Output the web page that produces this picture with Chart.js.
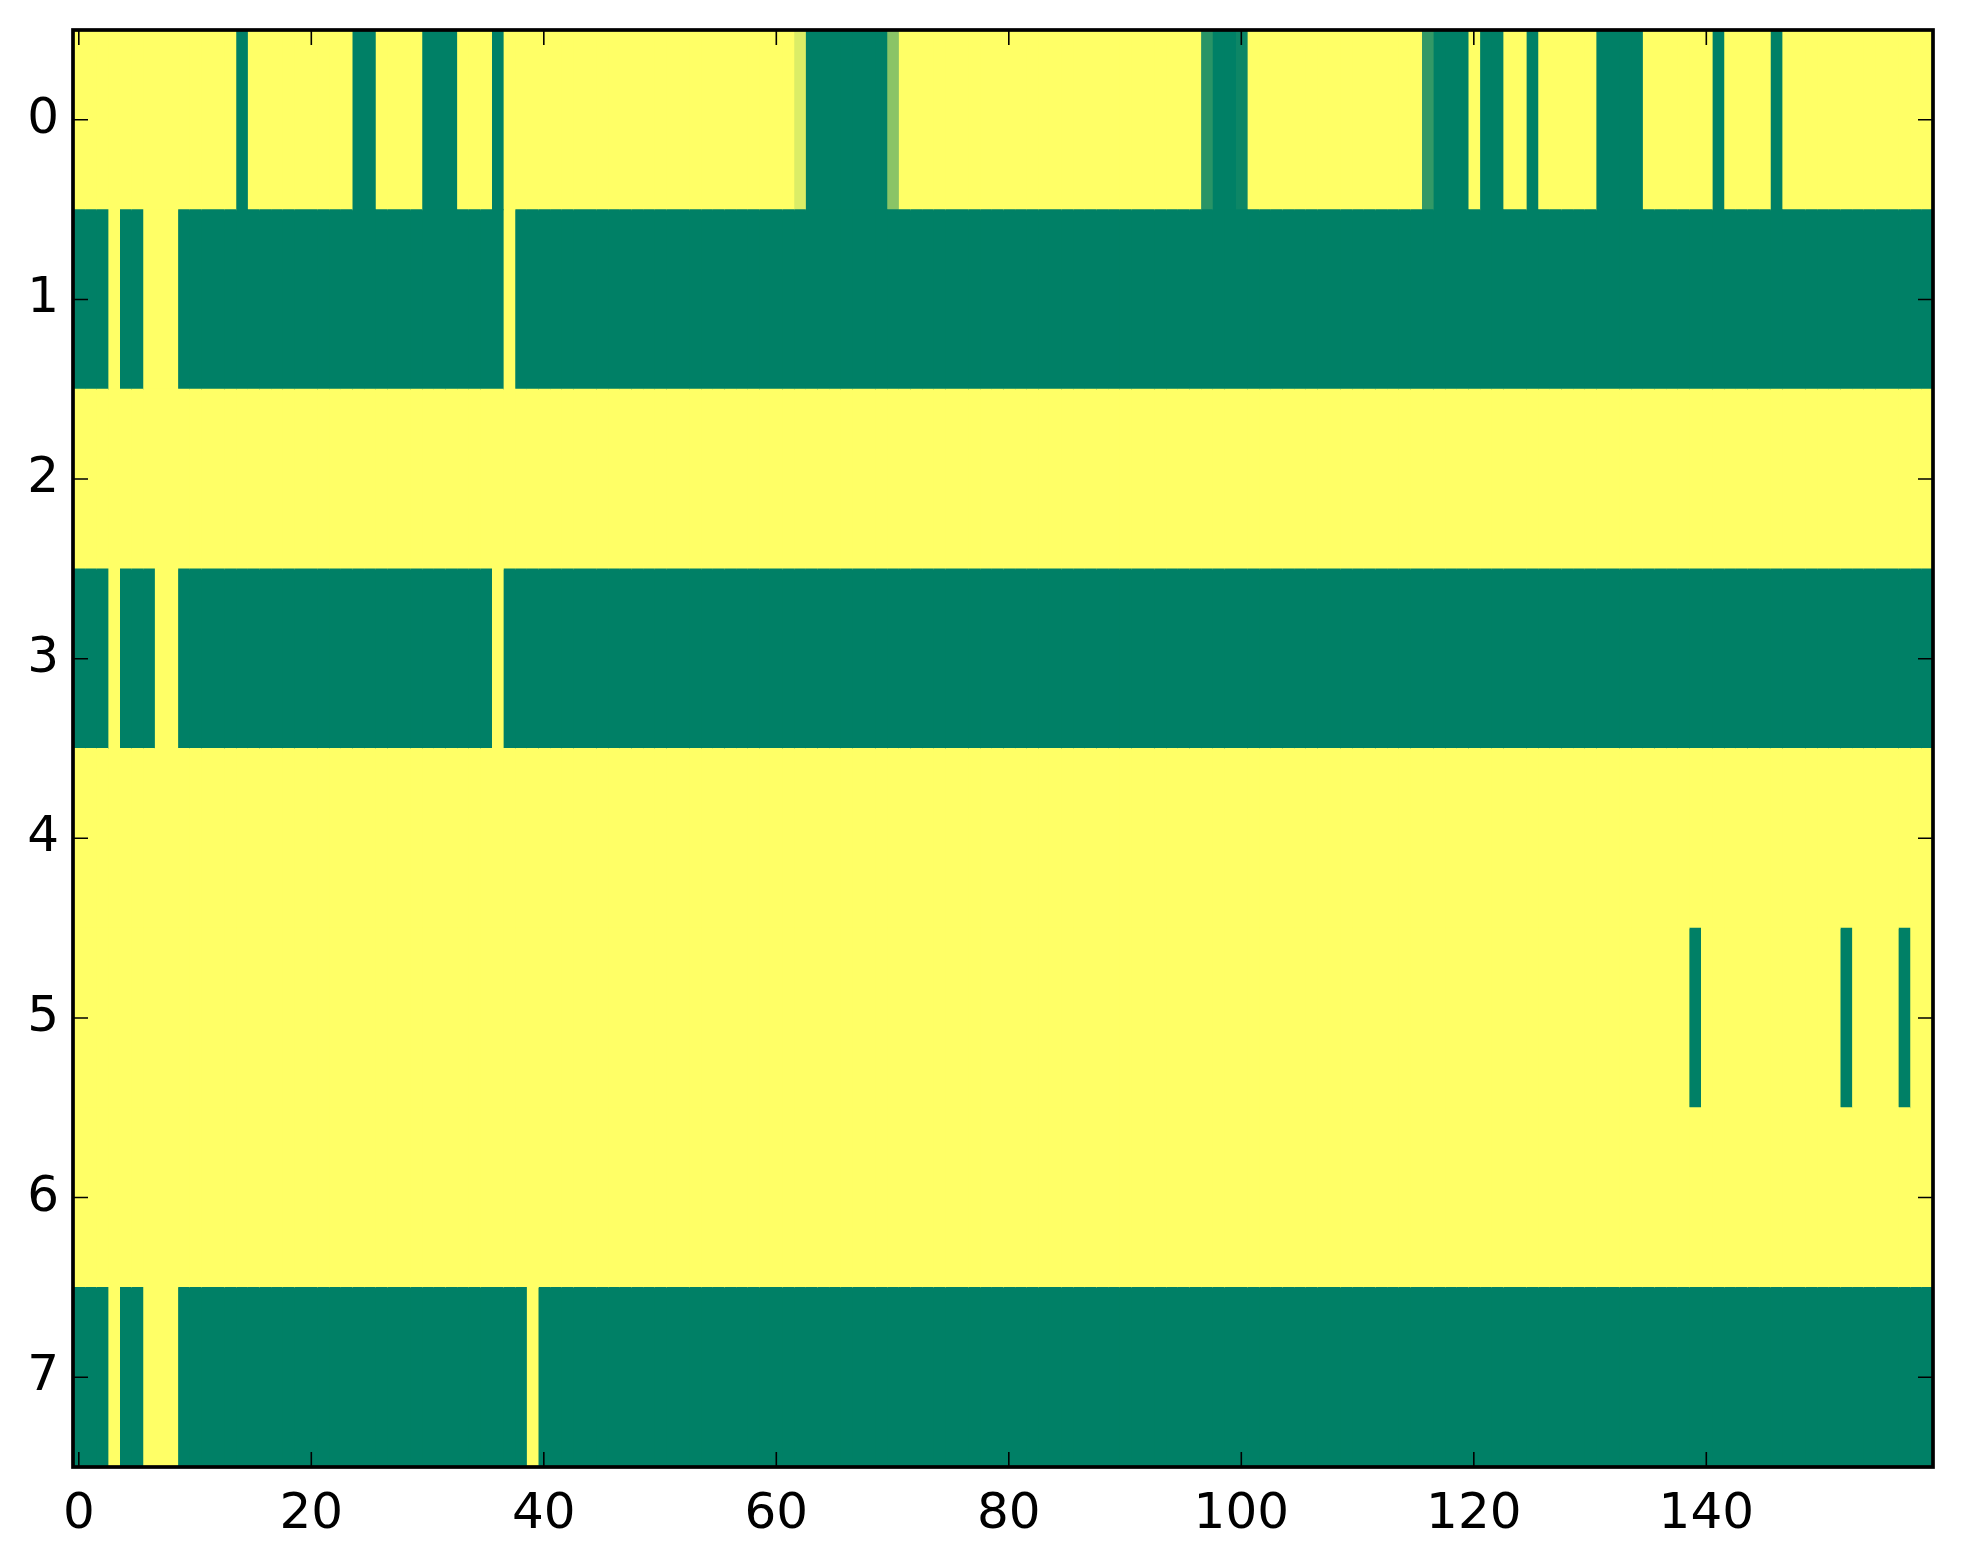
<!DOCTYPE html>
<html>
<head>
<meta charset="utf-8">
<script src="https://cdn.jsdelivr.net/npm/chart.js@4/dist/chart.umd.min.js"></script>
<style>
  html, body { margin: 0; padding: 0; background: #fff; }
  #wrap { width: 1963px; height: 1564px; position: relative; }
</style>
</head>
<body>
<div id="wrap"><canvas id="heatmap"></canvas></div>
<script>
// row labels (top to bottom) and x tick labels
const rowLabels = ['0', '1', '2', '3', '4', '5', '6', '7'];
const xTickValues = [0, 20, 40, 60, 80, 100, 120, 140];

// cell values per row, 160 columns each (0 = green, 1 = yellow)
const row0 = [
  1, 1, 1, 1, 1, 1, 1, 1, 1, 1, 1, 1, 1, 1, 0, 1, 1, 1, 1, 1,
  1, 1, 1, 1, 0, 0, 1, 1, 1, 1, 0, 0, 0, 1, 1, 1, 0, 1, 1, 1,
  1, 1, 1, 1, 1, 1, 1, 1, 1, 1, 1, 1, 1, 1, 1, 1, 1, 1, 1, 1,
  1, 1, 0.86, 0, 0, 0, 0, 0, 0, 0, 0.54, 1, 1, 1, 1, 1, 1, 1, 1, 1,
  1, 1, 1, 1, 1, 1, 1, 1, 1, 1, 1, 1, 1, 1, 1, 1, 1, 0.16, 0, 0,
  0.05, 1, 1, 1, 1, 1, 1, 1, 1, 1, 1, 1, 1, 1, 1, 1, 0.2, 0, 0, 0,
  1, 0, 0, 1, 1, 0, 1, 1, 1, 1, 1, 0, 0, 0, 0, 1, 1, 1, 1, 1,
  1, 0, 1, 1, 1, 1, 0, 1, 1, 1, 1, 1, 1, 1, 1, 1, 1, 1, 1, 1
];
const row1 = [
  0, 0, 0, 1, 0, 0, 1, 1, 1, 0, 0, 0, 0, 0, 0, 0, 0, 0, 0, 0,
  0, 0, 0, 0, 0, 0, 0, 0, 0, 0, 0, 0, 0, 0, 0, 0, 0, 1, 0, 0,
  0, 0, 0, 0, 0, 0, 0, 0, 0, 0, 0, 0, 0, 0, 0, 0, 0, 0, 0, 0,
  0, 0, 0, 0, 0, 0, 0, 0, 0, 0, 0, 0, 0, 0, 0, 0, 0, 0, 0, 0,
  0, 0, 0, 0, 0, 0, 0, 0, 0, 0, 0, 0, 0, 0, 0, 0, 0, 0, 0, 0,
  0, 0, 0, 0, 0, 0, 0, 0, 0, 0, 0, 0, 0, 0, 0, 0, 0, 0, 0, 0,
  0, 0, 0, 0, 0, 0, 0, 0, 0, 0, 0, 0, 0, 0, 0, 0, 0, 0, 0, 0,
  0, 0, 0, 0, 0, 0, 0, 0, 0, 0, 0, 0, 0, 0, 0, 0, 0, 0, 0, 0
];
const row2 = [
  1, 1, 1, 1, 1, 1, 1, 1, 1, 1, 1, 1, 1, 1, 1, 1, 1, 1, 1, 1,
  1, 1, 1, 1, 1, 1, 1, 1, 1, 1, 1, 1, 1, 1, 1, 1, 1, 1, 1, 1,
  1, 1, 1, 1, 1, 1, 1, 1, 1, 1, 1, 1, 1, 1, 1, 1, 1, 1, 1, 1,
  1, 1, 1, 1, 1, 1, 1, 1, 1, 1, 1, 1, 1, 1, 1, 1, 1, 1, 1, 1,
  1, 1, 1, 1, 1, 1, 1, 1, 1, 1, 1, 1, 1, 1, 1, 1, 1, 1, 1, 1,
  1, 1, 1, 1, 1, 1, 1, 1, 1, 1, 1, 1, 1, 1, 1, 1, 1, 1, 1, 1,
  1, 1, 1, 1, 1, 1, 1, 1, 1, 1, 1, 1, 1, 1, 1, 1, 1, 1, 1, 1,
  1, 1, 1, 1, 1, 1, 1, 1, 1, 1, 1, 1, 1, 1, 1, 1, 1, 1, 1, 1
];
const row3 = [
  0, 0, 0, 1, 0, 0, 0, 1, 1, 0, 0, 0, 0, 0, 0, 0, 0, 0, 0, 0,
  0, 0, 0, 0, 0, 0, 0, 0, 0, 0, 0, 0, 0, 0, 0, 0, 1, 0, 0, 0,
  0, 0, 0, 0, 0, 0, 0, 0, 0, 0, 0, 0, 0, 0, 0, 0, 0, 0, 0, 0,
  0, 0, 0, 0, 0, 0, 0, 0, 0, 0, 0, 0, 0, 0, 0, 0, 0, 0, 0, 0,
  0, 0, 0, 0, 0, 0, 0, 0, 0, 0, 0, 0, 0, 0, 0, 0, 0, 0, 0, 0,
  0, 0, 0, 0, 0, 0, 0, 0, 0, 0, 0, 0, 0, 0, 0, 0, 0, 0, 0, 0,
  0, 0, 0, 0, 0, 0, 0, 0, 0, 0, 0, 0, 0, 0, 0, 0, 0, 0, 0, 0,
  0, 0, 0, 0, 0, 0, 0, 0, 0, 0, 0, 0, 0, 0, 0, 0, 0, 0, 0, 0
];
const row4 = [
  1, 1, 1, 1, 1, 1, 1, 1, 1, 1, 1, 1, 1, 1, 1, 1, 1, 1, 1, 1,
  1, 1, 1, 1, 1, 1, 1, 1, 1, 1, 1, 1, 1, 1, 1, 1, 1, 1, 1, 1,
  1, 1, 1, 1, 1, 1, 1, 1, 1, 1, 1, 1, 1, 1, 1, 1, 1, 1, 1, 1,
  1, 1, 1, 1, 1, 1, 1, 1, 1, 1, 1, 1, 1, 1, 1, 1, 1, 1, 1, 1,
  1, 1, 1, 1, 1, 1, 1, 1, 1, 1, 1, 1, 1, 1, 1, 1, 1, 1, 1, 1,
  1, 1, 1, 1, 1, 1, 1, 1, 1, 1, 1, 1, 1, 1, 1, 1, 1, 1, 1, 1,
  1, 1, 1, 1, 1, 1, 1, 1, 1, 1, 1, 1, 1, 1, 1, 1, 1, 1, 1, 1,
  1, 1, 1, 1, 1, 1, 1, 1, 1, 1, 1, 1, 1, 1, 1, 1, 1, 1, 1, 1
];
const row5 = [
  1, 1, 1, 1, 1, 1, 1, 1, 1, 1, 1, 1, 1, 1, 1, 1, 1, 1, 1, 1,
  1, 1, 1, 1, 1, 1, 1, 1, 1, 1, 1, 1, 1, 1, 1, 1, 1, 1, 1, 1,
  1, 1, 1, 1, 1, 1, 1, 1, 1, 1, 1, 1, 1, 1, 1, 1, 1, 1, 1, 1,
  1, 1, 1, 1, 1, 1, 1, 1, 1, 1, 1, 1, 1, 1, 1, 1, 1, 1, 1, 1,
  1, 1, 1, 1, 1, 1, 1, 1, 1, 1, 1, 1, 1, 1, 1, 1, 1, 1, 1, 1,
  1, 1, 1, 1, 1, 1, 1, 1, 1, 1, 1, 1, 1, 1, 1, 1, 1, 1, 1, 1,
  1, 1, 1, 1, 1, 1, 1, 1, 1, 1, 1, 1, 1, 1, 1, 1, 1, 1, 1, 0,
  1, 1, 1, 1, 1, 1, 1, 1, 1, 1, 1, 1, 0, 1, 1, 1, 1, 0, 1, 1
];
const row6 = [
  1, 1, 1, 1, 1, 1, 1, 1, 1, 1, 1, 1, 1, 1, 1, 1, 1, 1, 1, 1,
  1, 1, 1, 1, 1, 1, 1, 1, 1, 1, 1, 1, 1, 1, 1, 1, 1, 1, 1, 1,
  1, 1, 1, 1, 1, 1, 1, 1, 1, 1, 1, 1, 1, 1, 1, 1, 1, 1, 1, 1,
  1, 1, 1, 1, 1, 1, 1, 1, 1, 1, 1, 1, 1, 1, 1, 1, 1, 1, 1, 1,
  1, 1, 1, 1, 1, 1, 1, 1, 1, 1, 1, 1, 1, 1, 1, 1, 1, 1, 1, 1,
  1, 1, 1, 1, 1, 1, 1, 1, 1, 1, 1, 1, 1, 1, 1, 1, 1, 1, 1, 1,
  1, 1, 1, 1, 1, 1, 1, 1, 1, 1, 1, 1, 1, 1, 1, 1, 1, 1, 1, 1,
  1, 1, 1, 1, 1, 1, 1, 1, 1, 1, 1, 1, 1, 1, 1, 1, 1, 1, 1, 1
];
const row7 = [
  0, 0, 0, 1, 0, 0, 1, 1, 1, 0, 0, 0, 0, 0, 0, 0, 0, 0, 0, 0,
  0, 0, 0, 0, 0, 0, 0, 0, 0, 0, 0, 0, 0, 0, 0, 0, 0, 0, 0, 1,
  0, 0, 0, 0, 0, 0, 0, 0, 0, 0, 0, 0, 0, 0, 0, 0, 0, 0, 0, 0,
  0, 0, 0, 0, 0, 0, 0, 0, 0, 0, 0, 0, 0, 0, 0, 0, 0, 0, 0, 0,
  0, 0, 0, 0, 0, 0, 0, 0, 0, 0, 0, 0, 0, 0, 0, 0, 0, 0, 0, 0,
  0, 0, 0, 0, 0, 0, 0, 0, 0, 0, 0, 0, 0, 0, 0, 0, 0, 0, 0, 0,
  0, 0, 0, 0, 0, 0, 0, 0, 0, 0, 0, 0, 0, 0, 0, 0, 0, 0, 0, 0,
  0, 0, 0, 0, 0, 0, 0, 0, 0, 0, 0, 0, 0, 0, 0, 0, 0, 0, 0, 0
];

const rows = [row0, row1, row2, row3, row4, row5, row6, row7];
const columns = row0.map((_, i) => i);

// matplotlib "summer" colormap
function summer(v) {
    return `rgb(${Math.round(255 * v)}, ${Math.round(255 * (0.5 + v / 2))}, 102)`;
}

const tickFont = { family: "'DejaVu Sans', sans-serif", size: 50, lineHeight: 1.2 };

// one dataset per column, each cell is a floating bar [c - 0.5, c + 0.5]
const datasets = columns.map(c => ({
    data: rows.map(() => [c - 0.5, c + 0.5]),
    backgroundColor: rows.map(r => summer(r[c])),
    borderWidth: 0,
    grouped: false,
    categoryPercentage: 1,
    barPercentage: 1,
    inflateAmount: 0.5
}));

// frame + inward ticks on all four sides (classic matplotlib look)
const frameAndTicks = {
    id: 'frameAndTicks',
    afterDatasetsDraw(chart) {
        const { ctx, chartArea: a, scales: { x, y } } = chart;
        const len = 15;
        ctx.save();
        ctx.strokeStyle = '#000';
        ctx.lineWidth = 1.6;
        ctx.beginPath();
        xTickValues.forEach(v => {
            const px = x.getPixelForValue(v);
            ctx.moveTo(px, a.bottom);
            ctx.lineTo(px, a.bottom - len);
            ctx.moveTo(px, a.top);
            ctx.lineTo(px, a.top + len);
        });
        rowLabels.forEach((_, i) => {
            const py = y.getPixelForTick(i);
            ctx.moveTo(a.left, py);
            ctx.lineTo(a.left + len, py);
            ctx.moveTo(a.right, py);
            ctx.lineTo(a.right - len, py);
        });
        ctx.stroke();
        ctx.lineWidth = 3.7;
        ctx.strokeRect(a.left, a.top, a.right - a.left, a.bottom - a.top);
        ctx.restore();
    }
};

new Chart(document.getElementById('heatmap'), {
    type: 'bar',
    data: { labels: rowLabels, datasets: datasets },
    plugins: [frameAndTicks],
    options: {
        indexAxis: 'y',
        responsive: true,
        maintainAspectRatio: false,
        animation: false,
        layout: { padding: { top: 30, right: 30, left: 0, bottom: 0 } },
        scales: {
            x: {
                type: 'linear',
                min: -0.5,
                max: 159.5,
                afterBuildTicks: scale => {
                    scale.ticks = xTickValues.map(v => ({ value: v }));
                },
                afterFit: scale => {
                    scale.height = 97;
                    scale.paddingLeft = 0;
                    scale.paddingRight = 0;
                },
                grid: { display: false },
                border: { display: false },
                ticks: {
                    autoSkip: false,
                    maxRotation: 0,
                    padding: 10,
                    color: '#000',
                    font: tickFont
                }
            },
            y: {
                type: 'category',
                afterFit: scale => {
                    scale.width = 73;
                    scale.paddingTop = 0;
                    scale.paddingBottom = 0;
                },
                grid: { display: false },
                border: { display: false },
                ticks: {
                    padding: 6,
                    color: '#000',
                    font: tickFont
                }
            }
        },
        plugins: {
            legend: { display: false },
            tooltip: { enabled: false }
        }
    }
});
</script>
</body>
</html>
